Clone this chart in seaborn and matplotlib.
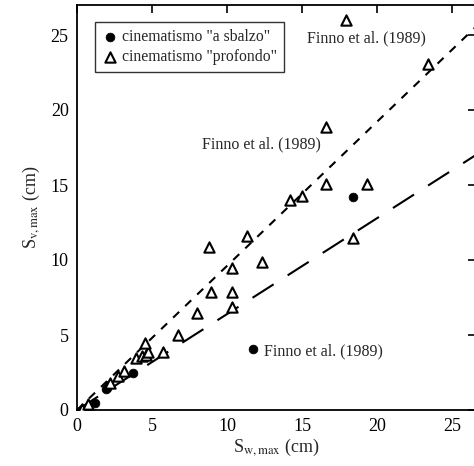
import matplotlib
matplotlib.use("Agg")
import matplotlib.pyplot as plt
import seaborn as sns
import pandas as pd

# "profondo" (open triangles)
prof_x = [0.3, 0.7, 2.2, 2.7, 3.1, 3.9, 4.3, 4.6, 4.7, 4.5, 5.7, 6.7, 8.0, 8.9, 10.3,
          10.3, 10.3, 12.3, 8.8, 11.3, 14.2, 15.0, 16.6, 19.3, 18.4, 16.6, 23.4, 17.9]
prof_y = [0.1, 0.4, 1.8, 2.3, 2.6, 3.5, 3.6, 3.7, 3.9, 4.5, 3.9, 5.0, 6.5, 7.9, 7.9,
          6.9, 9.5, 9.9, 10.9, 11.6, 14.0, 14.3, 15.1, 15.1, 11.5, 18.9, 23.1, 26.0]
# "a sbalzo" (filled circles)
sbal_x = [1.2, 1.9, 2.0, 2.1, 3.7, 11.7, 18.4]
sbal_y = [0.5, 1.4, 1.5, 1.7, 2.5, 4.1, 14.2]

# trend lines (end points)
line_short_x = [0, 28]
line_short_y = [0, 26.9]
line_long_x = [0, 28]
line_long_y = [0, 17.9]

labels = ['cinematismo "a sbalzo"', 'cinematismo "profondo"']
annot_text = "Finno et al. (1989)"
x_ticks = [0, 5, 10, 15, 20, 25]
y_ticks = [0, 5, 10, 15, 20, 25]

sns.set_theme(style="white")
plt.rcParams["font.family"] = ["Liberation Serif", "DejaVu Serif"]
plt.rcParams["mathtext.fontset"] = "stix"

fig = plt.figure(figsize=(4.74, 4.66), dpi=100)
ax = fig.add_axes([77 / 474, 56 / 466, 399 / 474, 405 / 466])

sns.lineplot(x=line_short_x, y=line_short_y, ax=ax, color="black", lw=1.5,
             linestyle=(0, (4, 4)))
sns.lineplot(x=line_long_x, y=line_long_y, ax=ax, color="black", lw=1.5,
             linestyle=(0, (12, 8)))

sns.scatterplot(x=sbal_x, y=sbal_y, ax=ax, marker="o", s=40, color="black",
                edgecolor="black", linewidth=0.5, label=labels[0], zorder=3)
sns.scatterplot(x=prof_x, y=prof_y, ax=ax, marker="^", s=55, facecolors="white",
                edgecolor="black", linewidth=1.5, label=labels[1], zorder=3)

ax.set_xlim(0, 26.6)
ax.set_ylim(0, 27)
ax.set_xticks(x_ticks)
ax.set_yticks(y_ticks)
ax.tick_params(direction="in", length=6, width=1.2, top=True, right=True,
               labelsize=13, colors="black", pad=6)
for sp in ax.spines.values():
    sp.set_color("black")
    sp.set_linewidth(1.3)

ax.set_xlabel(r"S$_{\mathrm{w,max}}$ (cm)", fontsize=13, labelpad=1)
ax.set_ylabel(r"S$_{\mathrm{v,max}}$ (cm)", fontsize=13, labelpad=6)

ax.text(19.3, 24.8, annot_text, fontsize=11.5, ha="center", va="center")
ax.text(12.3, 17.7, annot_text, fontsize=11.5, ha="center", va="center")
ax.text(12.5, 3.9, annot_text, fontsize=11.5, ha="left", va="center")

leg = ax.legend(loc="upper left", bbox_to_anchor=(0.045, 0.958), borderaxespad=0,
                fontsize=11.3, frameon=True, fancybox=False, handletextpad=0.3,
                handlelength=1.0, borderpad=0.45, labelspacing=0.25)
leg.get_frame().set_edgecolor("black")
leg.get_frame().set_linewidth(1.0)

fig.savefig("out.png", dpi=100)
